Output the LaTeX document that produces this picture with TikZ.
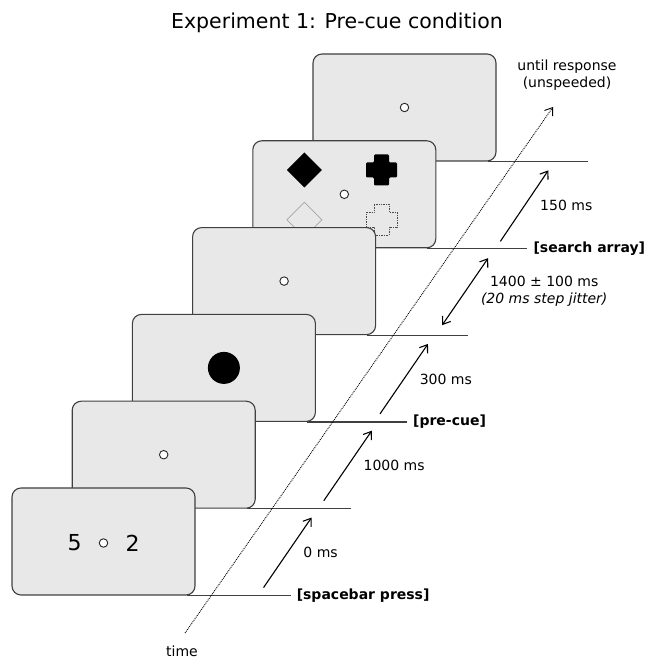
\documentclass[tikz,border=0pt]{standalone}
\usepackage{fontspec}
\setmainfont{DejaVu Sans}
\usetikzlibrary{positioning, calc, arrows.meta}

\definecolor{screengray}{HTML}{E8E8E8}
\definecolor{framegray}{HTML}{404040}
\definecolor{ghostgray}{HTML}{A5A5A5}

\tikzset{
  screen/.style={draw=framegray, fill=screengray, line width=1.1pt,
    rounded corners=9pt, minimum width=183pt, minimum height=107pt, inner sep=0pt},
  fixdot/.style={draw=black!85, fill=white, circle, line width=0.9pt,
    minimum size=8.5pt, inner sep=0pt},
  onset/.style={draw=framegray, line width=1.2pt},
  interval/.style={line width=1.1pt},
  lbl/.style={font=\fontsize{14}{17}\selectfont},
  event/.style={font=\fontsize{14}{17}\selectfont\bfseries, anchor=west, inner sep=2pt},
}

\begin{document}
\begin{tikzpicture}[x=1pt, y=1pt, >={Straight Barb[length=7pt, width=10pt]}]
    \useasboundingbox (0,0) rectangle (654,661);

    \node[font=\fontsize{20.5}{24}\selectfont] (title) at (337,638) {Experiment 1: Pre-cue condition};

    % screens, back to front
    \node[screen] (respscr) at (404.5,553.5) {};
    \node[fixdot] (respdot) at (respscr) {};

    \node[screen] (arrayscr) at ($(respscr)+(-60.2,-86.8)$) {};
    \node[fixdot] (arraydot) at (arrayscr) {};
    \fill ($(arrayscr)+(-40,24.3)$) +(0,17.5) -- +(17.5,0) -- +(0,-17.5) -- +(-17.5,0) -- cycle;
    \fill[rounded corners=1.2pt] ($(arrayscr)+(37.2,24.3)$)
      +(-7.5,15.5) -- +(7.5,15.5) -- +(7.5,7.5) -- +(15.5,7.5) -- +(15.5,-7.5) -- +(7.5,-7.5)
      -- +(7.5,-15.5) -- +(-7.5,-15.5) -- +(-7.5,-7.5) -- +(-15.5,-7.5) -- +(-15.5,7.5) -- +(-7.5,7.5) -- cycle;
    \draw[ghostgray, line width=0.7pt] ($(arrayscr)+(-40,-25.5)$)
      +(0,17.5) -- +(17.5,0) -- +(0,-17.5) -- +(-17.5,0) -- cycle;
    \draw[black!70, densely dotted, line width=0.7pt] ($(arrayscr)+(37.2,-25.2)$)
      +(-7.5,15.5) -- +(7.5,15.5) -- +(7.5,7.5) -- +(15.5,7.5) -- +(15.5,-7.5) -- +(7.5,-7.5)
      -- +(7.5,-15.5) -- +(-7.5,-15.5) -- +(-7.5,-7.5) -- +(-15.5,-7.5) -- +(-15.5,7.5) -- +(-7.5,7.5) -- cycle;

    \node[screen] (gapscr) at ($(arrayscr)+(-60.2,-86.8)$) {};
    \node[fixdot] (gapdot) at (gapscr) {};

    \node[screen] (cuescr) at ($(gapscr)+(-60.2,-86.8)$) {};
    \node[circle, fill=black, minimum size=32pt, inner sep=0pt] (cuedisc) at (cuescr) {};

    \node[screen] (fixscr) at ($(cuescr)+(-60.2,-86.8)$) {};
    \node[fixdot] (fixdot) at (fixscr) {};

    \node[screen] (startscr) at ($(fixscr)+(-60.2,-86.8)$) {};
    \node[fixdot] (startdot) at ($(startscr)+(0,-1.5)$) {};
    \node[font=\fontsize{22}{26}\selectfont] (five) at ($(startscr)+(-29,-1.5)$) {5};
    \node[font=\fontsize{22}{26}\selectfont] (two) at ($(startscr)+(29,-1.5)$) {2};

    % onset lines
    \draw[onset] ([xshift=-9pt]respscr.south east) -- ++(100,0) coordinate (respend);
    \draw[onset] ([xshift=-9pt]arrayscr.south east) -- ++(100,0) coordinate (arrayend);
    \draw[onset] ([xshift=-9pt]gapscr.south east) -- ++(101,0) coordinate (gapend);
    \draw[onset] ([xshift=-9pt]cuescr.south east) -- ++(100,0) coordinate (cueend);
    \draw[onset] ([xshift=-9pt]fixscr.south east) -- ++(104,0) coordinate (fixend);
    \draw[onset] ([xshift=-9pt]startscr.south east) -- ++(104,0) coordinate (startend);

    \node[event, right = 4pt of arrayend] (arraylbl) {[search array]};
    \node[event, right = 4pt of cueend] (cuelbl) {[pre-cue]};
    \node[event, right = 4pt of startend] (startlbl) {[spacebar press]};

    % intervals
    \draw[interval, ->] ($(startend)+(-27,8)$) -- ($(startend)+(21,78)$)
      node[lbl, midway, right = 12pt] (zeroms) {0 ms};
    \draw[interval, ->] ($(fixend)+(-27,8)$) -- ($(fixend)+(21,78)$)
      node[lbl, midway, right = 12pt] (fixms) {1000 ms};
    \draw[interval, ->] ($(cueend)+(-27,8)$) -- ($(cueend)+(21,78)$)
      node[lbl, midway, right = 12pt] (cuems) {300 ms};
    \draw[interval, <->] ($(gapend)+(-26,10)$) -- ($(gapend)+(20,77)$)
      node[lbl, midway, right = 12pt, align=center] (gapms) {1400 ± 100 ms\\{\itshape (20 ms step jitter)}};
    \draw[interval, ->] ($(arrayend)+(-27,7)$) -- ($(arrayend)+(21,78)$)
      node[lbl, midway, right = 12pt] (arrayms) {150 ms};

    % time axis
    \node[lbl] (time) at (182,10) {time};
    \node[lbl, align=center] (untilresp) at (567,585.5) {until response\\(unspeeded)};
    \coordinate (timeend) at (553,554);
    \draw[densely dotted, line width=0.9pt, ->] ([xshift=3pt, yshift=9pt]time.north) -- (timeend);
\end{tikzpicture}
\end{document}
